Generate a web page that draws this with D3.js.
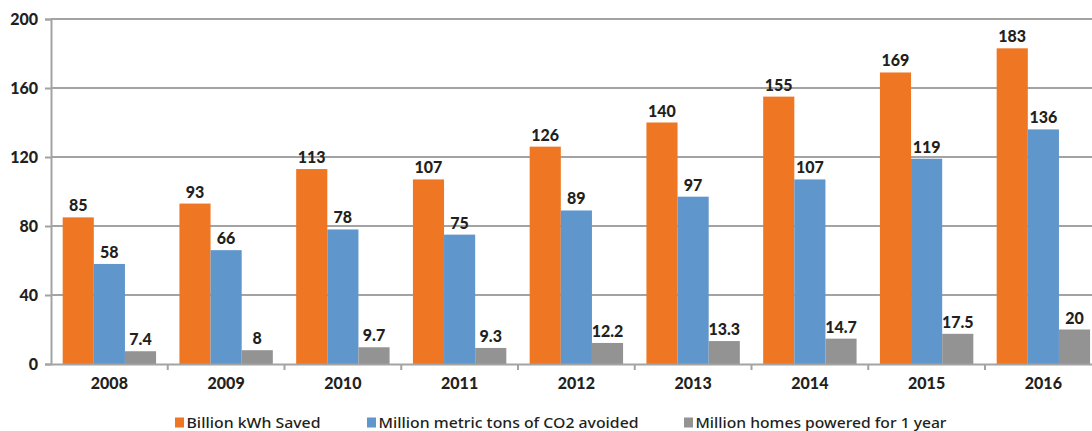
<!DOCTYPE html>
<html>
<head>
<meta charset="utf-8">
<script src="https://cdn.jsdelivr.net/npm/d3@7"></script>
<style>
  html, body { margin: 0; padding: 0; background: #fff; }
  svg { display: block; }
  .val, .tick text { font-family: "Lato", "DejaVu Sans", sans-serif; font-weight: 900; fill: #231f20; }
  .legend text { font-family: "Noto Sans", "Open Sans", sans-serif; font-weight: 500; fill: #231f20; }
</style>
</head>
<body>
<svg id="chart" width="1092" height="431"></svg>
<script>
// Energy savings by year
const years = ["2008", "2009", "2010", "2011", "2012", "2013", "2014", "2015", "2016"];
const kwhSaved = [85, 93, 113, 107, 126, 140, 155, 169, 183];
const co2Avoided = [58, 66, 78, 75, 89, 97, 107, 119, 136];
const homesPowered = [7.4, 8, 9.7, 9.3, 12.2, 13.3, 14.7, 17.5, 20];
const seriesNames = ["Billion kWh Saved", "Million metric tons of CO2 avoided", "Million homes powered for 1 year"];
const seriesColors = ["#ef7622", "#5f96cc", "#939393"];
const yTicks = [0, 40, 80, 120, 160, 200];

const series = [kwhSaved, co2Avoided, homesPowered];
const svg = d3.select("#chart");

const x0 = d3.scaleBand().domain(years).range([51, 1101.75]).paddingInner(0).paddingOuter(0);
const x1 = d3.scaleBand().domain(d3.range(series.length)).range([0, x0.bandwidth()]).paddingInner(0).paddingOuter(0.375);
const y = d3.scaleLinear().domain([0, 200]).range([364, 19]);

// gridlines
svg.append("g")
  .selectAll("line")
  .data(yTicks.filter(d => d > 0))
  .join("line")
  .attr("x1", 51).attr("x2", 1092)
  .attr("y1", d => y(d)).attr("y2", d => y(d))
  .attr("stroke", "#a3a3a3").attr("stroke-width", 2);

// y axis
const yAxis = svg.append("g")
  .attr("transform", "translate(51,0)")
  .call(d3.axisLeft(y).tickValues(yTicks).tickSize(6).tickPadding(7));
yAxis.select(".domain").attr("stroke", "#a3a3a3").attr("stroke-width", 2);
yAxis.selectAll(".tick line").attr("stroke", "#a3a3a3").attr("stroke-width", 2);
yAxis.selectAll(".tick text").attr("font-size", 16).attr("dy", "0.36em");

// bars
const groups = svg.append("g")
  .selectAll("g")
  .data(years)
  .join("g")
  .attr("transform", d => `translate(${x0(d)},0)`);

groups.selectAll("rect")
  .data((d, i) => series.map((s, k) => ({ k, v: s[i] })))
  .join("rect")
  .attr("x", d => x1(d.k))
  .attr("width", x1.bandwidth())
  .attr("y", d => y(d.v))
  .attr("height", d => y(0) - y(d.v))
  .attr("fill", d => seriesColors[d.k]);

groups.selectAll("text.val")
  .data((d, i) => series.map((s, k) => ({ k, v: s[i] })))
  .join("text")
  .attr("class", "val")
  .attr("x", d => x1(d.k) + x1.bandwidth() / 2)
  .attr("y", d => y(d.v) - 6)
  .attr("text-anchor", "middle")
  .attr("font-size", 16)
  .text(d => d.v);

// x axis
const xAxis = svg.append("g")
  .attr("transform", "translate(0,364)")
  .call(d3.axisBottom(x0).tickSize(0).tickPadding(14));
xAxis.select(".domain").attr("stroke", "#a3a3a3").attr("stroke-width", 2);
xAxis.selectAll(".tick text").attr("font-size", 16);

// category separators below the baseline
svg.append("g")
  .selectAll("line")
  .data(years.slice(1))
  .join("line")
  .attr("x1", d => x0(d)).attr("x2", d => x0(d))
  .attr("y1", 364).attr("y2", 370)
  .attr("stroke", "#a3a3a3").attr("stroke-width", 2);

// legend
const legendX = [175, 367, 684];
const legendTextWidth = [134, 260, 251];
const legend = svg.append("g").attr("class", "legend");
seriesNames.forEach((name, k) => {
  legend.append("rect")
    .attr("x", legendX[k]).attr("y", 417.5)
    .attr("width", 9).attr("height", 10)
    .attr("fill", seriesColors[k]);
  legend.append("text")
    .attr("x", legendX[k] + 11.5).attr("y", 427.5)
    .attr("font-size", 14)
    .attr("textLength", legendTextWidth[k])
    .attr("lengthAdjust", "spacingAndGlyphs")
    .text(name);
});
</script>
</body>
</html>
